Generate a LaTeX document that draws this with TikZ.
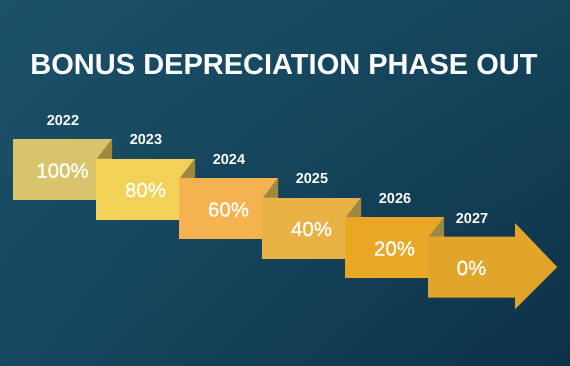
\documentclass[tikz,border=0pt]{standalone}
\usepackage{fontspec}
\setmainfont{Liberation Sans}
\newfontfamily\medfont[FakeBold=0.9]{Liberation Sans}
\usetikzlibrary{shadings}
\definecolor{bgul}{HTML}{1B5169}
\definecolor{bgur}{HTML}{15445B}
\definecolor{bgll}{HTML}{164860}
\definecolor{bglr}{HTML}{0D3146}
\definecolor{cA}{HTML}{D8C46A}
\definecolor{cB}{HTML}{F1D256}
\definecolor{cC}{HTML}{F4B350}
\definecolor{cD}{HTML}{E8B244}
\definecolor{cE}{HTML}{E8A826}
\definecolor{cF}{HTML}{E0A52A}
\definecolor{foldc}{HTML}{9E8740}
\tikzset{
  yearlbl/.style={text=white,font=\fontsize{14.5}{14}\selectfont\bfseries,inner sep=0pt},
  pctlbl/.style={text=white,font=\fontsize{20.5}{20}\selectfont\medfont,inner sep=0pt},
  fold/.style={fill=foldc},
  titlelbl/.style={text=white,font=\fontsize{29}{29}\selectfont\bfseries,inner sep=0pt}
}
\begin{document}
\begin{tikzpicture}[x=1pt,y=-1pt]
\useasboundingbox (0,0) rectangle (570,365);
\shade[upper left=bgul,upper right=bgur,lower left=bgll,lower right=bglr] (0,0) rectangle (570,365);
\node[titlelbl] (title) at (284,65) {BONUS DEPRECIATION PHASE OUT};
% boxes
\def\bw{99}
\def\bh{61}
\foreach \i/\c/\y/\p in {0/cA/2022/100\%,1/cB/2023/80\%,2/cC/2024/60\%,3/cD/2025/40\%,4/cE/2026/20\%}{
  \pgfmathsetmacro{\lx}{13+83*\i}
  \pgfmathsetmacro{\ty}{139+19.5*\i}
  \fill[\c] (\lx,\ty) rectangle ++(\bw,\bh);
  \fill[fold] (\lx+\bw,\ty) -- (\lx+\bw-15,\ty+19.5) -- (\lx+\bw,\ty+19.5) -- cycle;
  \node[pctlbl] (p\i) at (\lx+\bw/2,\ty+\bh/2+1) {\p};
  \node[yearlbl] (y\i) at (\lx+50,\ty-18.5) {\y};
}
\fill[cF] (428,236.5) -- (515,236.5) -- (515,223) -- (557,267) -- (515,309) -- (515,297.5) -- (428,297.5) -- cycle;
\node[pctlbl] (p5) at (471.5,268) {0\%};
\node[yearlbl] (y5) at (472,219) {2027};
\end{tikzpicture}
\end{document}
